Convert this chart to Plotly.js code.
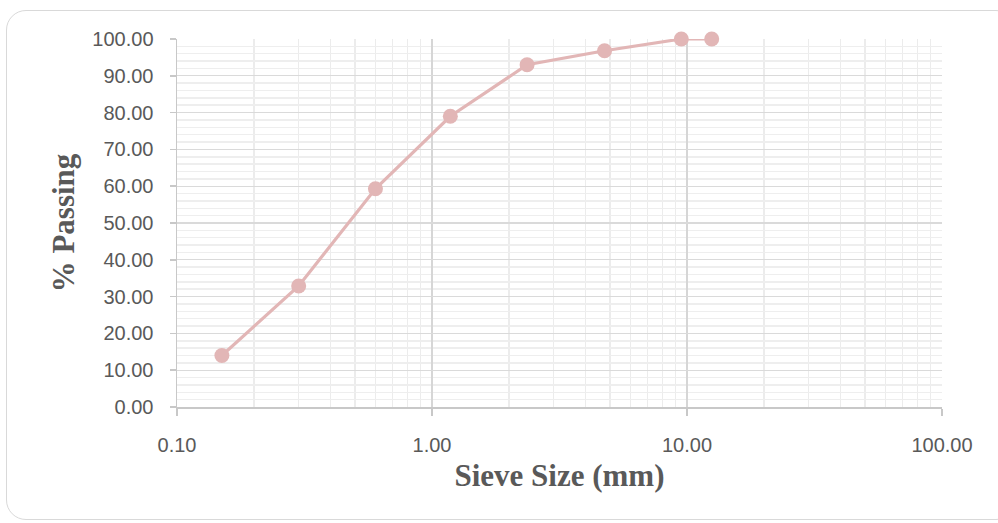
<!DOCTYPE html>
<html>
<head>
<meta charset="utf-8">
<script src="https://cdn.plot.ly/plotly-3.0.1.min.js"></script>
<style>
  html, body { margin: 0; padding: 0; background: #ffffff; overflow: hidden; }
  #frame { position: absolute; left: 6px; top: 10px; width: 1010px; height: 510px;
           border: 1.5px solid #d9d9d9; border-radius: 20px; box-sizing: border-box; }
  #chart { position: absolute; left: 0; top: 0; width: 998px; height: 523px; }
</style>
</head>
<body>
<div id="frame"></div>
<div id="chart"></div>
<script>
// Sieve sizes (mm) and cumulative percent passing
const sieveSize = [0.15, 0.3, 0.6, 1.18, 2.36, 4.75, 9.5, 12.5];
const percentPassing = [14.0, 32.9, 59.3, 79.0, 93.0, 96.8, 100.0, 100.0];
const xTickValues = [0.1, 1, 10, 100];
const xTickLabels = ["0.10", "1.00", "10.00", "100.00"];

const trace = {
  x: sieveSize,
  y: percentPassing,
  type: 'scatter',
  mode: 'lines+markers',
  line: { color: '#e2b6b6', width: 3.2 },
  marker: { color: '#e2b6b6', size: 15 },
  cliponaxis: false,
  hoverinfo: 'x+y'
};

const tickFont = { family: 'Liberation Sans, Arial, sans-serif', size: 20, color: '#595959' };
const titleFont = { family: 'Liberation Serif, Times New Roman, serif', size: 31, color: '#595959', weight: 'bold' };

const layout = {
  width: 998,
  height: 523,
  paper_bgcolor: 'rgba(0,0,0,0)',
  plot_bgcolor: '#ffffff',
  margin: { l: 177, r: 56, t: 39, b: 116 },
  showlegend: false,
  xaxis: {
    type: 'log',
    range: [-1, 2],
    tickvals: xTickValues,
    ticktext: xTickLabels,
    ticks: 'outside',
    ticklen: 7,
    tickcolor: '#c8c8c8',
    tickwidth: 1.5,
    ticklabelstandoff: 12,
    showline: true,
    linecolor: '#c8c8c8',
    linewidth: 1.5,
    showgrid: true,
    gridcolor: '#d6d6d6',
    gridwidth: 1.2,
    zeroline: false,
    minor: { dtick: 'D1', showgrid: true, gridcolor: '#ececec', gridwidth: 1.5, ticks: '' },
    tickfont: tickFont,
    title: { text: 'Sieve Size (mm)', standoff: 10, font: titleFont }
  },
  yaxis: {
    range: [0, 100],
    dtick: 10,
    tickformat: '.2f',
    ticks: 'outside',
    ticklen: 6,
    tickcolor: '#c8c8c8',
    tickwidth: 1.5,
    ticklabelstandoff: 12,
    showline: true,
    linecolor: '#c8c8c8',
    linewidth: 1.5,
    showgrid: true,
    gridcolor: '#dadada',
    gridwidth: 1.2,
    zeroline: false,
    minor: { dtick: 2, showgrid: true, gridcolor: '#eeeeee', gridwidth: 1.5, ticks: '' },
    tickfont: tickFont,
    title: { text: '% Passing', standoff: 8, font: titleFont }
  }
};

Plotly.newPlot('chart', [trace], layout, { displayModeBar: false, staticPlot: true });
</script>
</body>
</html>
